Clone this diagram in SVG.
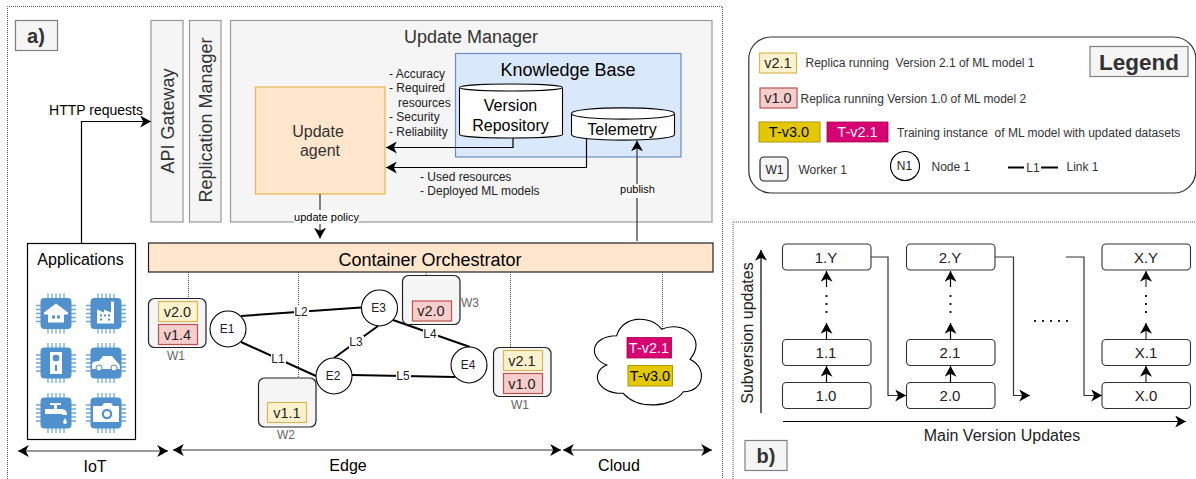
<svg xmlns="http://www.w3.org/2000/svg" width="1196" height="479" viewBox="0 0 1196 479">
<style>
text{font-family:"Liberation Sans",Arial,sans-serif;fill:#000;white-space:pre}
.c{text-anchor:middle}
.g{fill:#333}
.gb{fill:#f5f5f5;stroke:#808080;stroke-width:1.2}
.lb{fill:#f5f5f5;stroke:#999;stroke-width:1.2}
.dot{fill:none;stroke:#555;stroke-width:1;stroke-dasharray:1 1}
.w{fill:#f5f5f5;stroke:#222;stroke-width:1.2}
.y{fill:#fff2cc;stroke:#d6b656;stroke-width:1.2}
.r{fill:#f8cecc;stroke:#b85450;stroke-width:1.2}
.n{fill:#fff;stroke:#000;stroke-width:1.1}
.v{font-size:14.5px;fill:#222}
.s{font-size:12px;fill:#222}
.m{font-size:18px}
.t{font-size:16px}
.lg{font-size:12px;fill:#333}
.wl{font-size:12px;fill:#666}
.vn{font-size:15px;fill:#222}
.a{fill:none;stroke:#000;stroke-width:1.2}
.ag{fill:none;stroke:#333;stroke-width:1.2}
.lk{fill:none;stroke:#000;stroke-width:2}
.lbl{fill:#fff;stroke:none}
.v2{fill:#fff;stroke:#333;stroke-width:1.1}
.ic{fill:#fff;stroke:none}
.ib{fill:#4f90cd;stroke:none}
.ip{fill:none;stroke:#6fa7da;stroke-width:1.3}
</style>
<defs>
<marker id="ah" markerUnits="userSpaceOnUse" markerWidth="12" markerHeight="12" refX="9" refY="5" orient="auto-start-reverse" viewBox="0 0 10 10"><path d="M0,0 L9,5 L0,10 L2.5,5 Z" fill="#000"/></marker>
<g id="chip">
<path class="ip" d="M-8,-20V20M-4,-20V20M0,-20V20M4,-20V20M8,-20V20M-20,-8H20M-20,-4H20M-20,0H20M-20,4H20M-20,8H20"/>
<rect class="ib" x="-15.500" y="-15.500" width="31" height="31" rx="4"/>
</g>
</defs>

<g id="frame-a">
<path class="dot" d="M7.500,479V6.500H722.500V479"/>
<rect class="gb" x="15.500" y="20.500" width="42" height="30"/>
<text x="36" y="43" class="c g" font-size="20" font-weight="bold">a)</text>
</g>

<g id="api-gateway">
<rect class="lb" x="151" y="20.500" width="32" height="201.500"/>
<text class="c g m" transform="translate(174,121) rotate(-90)">API Gateway</text>
</g>
<g id="replication-manager">
<rect class="lb" x="189.500" y="20.500" width="31.500" height="201.500"/>
<text class="c g m" transform="translate(212,120) rotate(-90)">Replication Manager</text>
</g>
<g id="update-manager">
<rect class="lb" x="230.500" y="20.500" width="481.500" height="201.500"/>
<text x="471" y="43" class="c g m">Update Manager</text>
</g>
<g id="knowledge-base">
<rect x="455.500" y="53.500" width="225.500" height="103.500" fill="#dae8fc" stroke="#6c8ebf" stroke-width="1.2"/>
<text x="568" y="76" class="c m">Knowledge Base</text>
</g>
<g id="update-agent">
<rect x="255.500" y="87" width="129.500" height="107" fill="#ffe6cc" stroke="#e6b84e" stroke-width="1.2"/>
<text x="318" y="136.500" class="c g t">Update</text>
<text x="320" y="156" class="c g t">agent</text>
</g>
<g id="version-repository">
<path class="n" d="M459.500,87.500C459.500,82.800 562.500,82.800 562.500,87.500V134.500C562.500,139.200 459.500,139.200 459.500,134.500Z"/>
<path class="n" d="M459.500,87.500C459.500,92.200 562.500,92.200 562.500,87.500" fill="none"/>
<text x="510.500" y="111" class="c t">Version</text>
<text x="510.500" y="131" class="c t">Repository</text>
</g>
<g id="telemetry">
<path class="n" d="M571.500,113.500C571.500,106 674.500,106 674.500,113.500V134.500C674.500,142 571.500,142 571.500,134.500Z"/>
<path class="n" d="M571.500,113.500C571.500,121 674.500,121 674.500,113.500" fill="none"/>
<text x="622" y="135" class="c t">Telemetry</text>
</g>

<g id="connectors">
<path class="a" d="M81.500,243V121.500H151" marker-end="url(#ah)"/>
<path class="a" d="M513,138V147.500H386" marker-end="url(#ah)"/>
<path class="a" d="M586.500,139V167.500H386" marker-end="url(#ah)"/>
<path class="ag" d="M637,241V140.500" marker-end="url(#ah)"/>
<path class="ag" d="M320,194V238.500" marker-end="url(#ah)"/>
<path class="dot" d="M188.500,272V298M298.500,272V377M426,272V275M510.500,272V347M662.500,272V329"/>
<path class="lk" d="M241,316L361,307.500M241,342L316,376M334,358L378,326M393,320L470,347M352,375L455,377"/>
<path class="ag" d="M18,451H168" marker-start="url(#ah)" marker-end="url(#ah)"/>
<path class="ag" d="M173,450H561" marker-start="url(#ah)" marker-end="url(#ah)"/>
<path class="ag" d="M563,450H712" marker-start="url(#ah)" marker-end="url(#ah)"/>
<rect class="lbl" x="294" y="305" width="15" height="13"/>
<rect class="lbl" x="271" y="353" width="15" height="13"/>
<rect class="lbl" x="349" y="336" width="15" height="13"/>
<rect class="lbl" x="423" y="328" width="15" height="13"/>
<rect class="lbl" x="396" y="370" width="15" height="13"/>
<rect class="lbl" x="294" y="210" width="65" height="14"/>
<rect class="lbl" x="620" y="184" width="35" height="14"/>
<text x="301" y="316" class="c s">L2</text>
<text x="278" y="363" class="c s">L1</text>
<text x="356" y="346" class="c s">L3</text>
<text x="430" y="338" class="c s">L4</text>
<text x="403" y="380" class="c s">L5</text>
<text x="326.500" y="221" class="c" font-size="11">update policy</text>
<text x="637.500" y="193" class="c" font-size="11">publish</text>
<text x="96" y="114.500" class="c" font-size="14">HTTP requests</text>
<text x="389" y="78" class="s">- Accuracy</text>
<text x="389" y="92" class="s">- Required</text>
<text x="398" y="107" class="s">resources</text>
<text x="389" y="121" class="s">- Security</text>
<text x="389" y="136" class="s">- Reliability</text>
<text x="420" y="181" class="s">- Used resources</text>
<text x="420" y="195" class="s">- Deployed ML models</text>
<text x="95" y="472" class="c t" fill="#222">IoT</text>
<text x="348" y="471" class="c t">Edge</text>
<text x="619" y="471" class="c t">Cloud</text>
</g>

<g id="container-orchestrator">
<rect x="148.500" y="243" width="564.500" height="29" fill="#ffe6cc" stroke="#222" stroke-width="1.2"/>
<text x="430" y="265.500" class="c m">Container Orchestrator</text>
</g>

<g id="applications">
<rect x="27.500" y="243.500" width="108" height="196" fill="#fff" stroke="#000" stroke-width="1.2"/>
<text x="80.500" y="264.500" class="c t">Applications</text>
<g transform="translate(56,313.500)"><use href="#chip"/><path class="ic" d="M-12,-1L0,-10L12,-1V1H8V9H-8V1H-12Z"/><rect class="ib" x="-4" y="2" width="3" height="3"/><rect class="ib" x="1" y="2" width="3" height="3"/></g>
<g transform="translate(106,313.500)"><use href="#chip"/><path class="ic" d="M-9,10V-4L-2,-1V-4L5,-1V-12H8V10Z"/><path class="ib" d="M-6,1h2v2h-2zM-2,1h2v2h-2zM2,1h2v2h-2zM-6,5h2v2h-2zM2,5h2v2h-2z"/></g>
<g transform="translate(56,363)"><use href="#chip"/><rect class="ic" x="-6" y="-11" width="12" height="22"/><circle cx="0" cy="-5" r="4" fill="#4f90cd" stroke="#fff"/><rect class="ib" x="-1" y="2" width="2" height="6"/></g>
<g transform="translate(106,363)"><use href="#chip"/><path class="ic" d="M-14,6V1C-14,-1 -10,-2 -7,-2L-3,-7H6L11,-1C13,0 14,2 14,6Z"/><circle cx="-7" cy="5" r="3" fill="#fff" stroke="#4f90cd"/><circle cx="8" cy="5" r="3" fill="#fff" stroke="#4f90cd"/></g>
<g transform="translate(56,413)"><use href="#chip"/><path class="ic" d="M-11,-4H-2V-8H-6V-10H5V-8H1V-4H5C9,-4 11,-2 11,2H6C6,0 5,1 3,1H-11Z"/><path class="ic" d="M9,5L11,9A2,2 0 1 1 7,9Z"/></g>
<g transform="translate(106,413)"><use href="#chip"/><path class="ic" d="M-13,-7H-4L-2,-10H5L7,-7H13V9H-13Z"/><circle cx="1" cy="1" r="6" fill="#4f90cd" stroke="#fff" stroke-width="1.500"/><circle cx="1" cy="1" r="3" fill="#fff"/></g>
</g>

<g id="worker-w1-left">
<rect class="w" x="148.500" y="298.500" width="57.500" height="49" rx="6"/>
<rect class="y" x="158.500" y="301.500" width="39" height="20"/>
<text x="177.500" y="316.500" class="c v">v2.0</text>
<rect class="r" x="158.500" y="324.500" width="39" height="20"/>
<text x="177.500" y="339.500" class="c v">v1.4</text>
<text x="176" y="360" class="c wl">W1</text>
</g>
<g id="worker-w2">
<rect class="w" x="258.500" y="378" width="57.500" height="49" rx="6"/>
<rect class="y" x="267.500" y="402.500" width="39" height="20"/>
<text x="287" y="418" class="c v">v1.1</text>
<text x="286" y="439" class="c wl">W2</text>
</g>
<g id="worker-w3">
<rect class="w" x="402.500" y="275.500" width="57.500" height="49" rx="6"/>
<rect class="r" x="412.500" y="301" width="39" height="20"/>
<text x="431" y="316" class="c v">v2.0</text>
<text x="470" y="307" class="c wl">W3</text>
</g>
<g id="worker-w1-right">
<rect class="w" x="493.500" y="347.500" width="57.500" height="49" rx="6"/>
<rect class="y" x="503.500" y="350.500" width="39" height="20"/>
<text x="522" y="365.500" class="c v">v2.1</text>
<rect class="r" x="503.500" y="373.500" width="39" height="20"/>
<text x="522" y="388.500" class="c v">v1.0</text>
<text x="520" y="409" class="c wl">W1</text>
</g>
<g id="e1"><circle class="n" cx="228" cy="329" r="18"/><text x="227" y="333" class="c s">E1</text></g>
<g id="e2"><circle class="n" cx="334" cy="376" r="18"/><text x="333" y="380" class="c s">E2</text></g>
<g id="e3"><circle class="n" cx="379.500" cy="308" r="18"/><text x="378.500" y="312" class="c s">E3</text></g>
<g id="e4"><circle class="n" cx="469" cy="365" r="18"/><text x="468" y="369" class="c s">E4</text></g>

<g id="cloud">
<path class="n" d="M606.700,365C588,358 590,336 616.700,335.700C622,316 650,314 661.700,329.300C682,320 708,338 690,359.300C708,368 704,392 683.300,391.700C672,408 638,410 623.300,393.300C596,394 590,372 606.700,365Z"/>
<rect x="627" y="337.500" width="44.500" height="20.500" fill="#d80073" stroke="#a50040" stroke-width="0.800"/>
<text x="649" y="353" class="c" font-size="14.500" style="fill:#fff">T-v2.1</text>
<rect x="628" y="365.500" width="44.500" height="20.500" fill="#e3c800" stroke="#b09500" stroke-width="1"/>
<text x="650" y="381" class="c" font-size="14.500">T-v3.0</text>
</g>

<g id="legend">
<rect x="748.800" y="37" width="447" height="156" rx="22" fill="#fff" stroke="#333" stroke-width="1.2"/>
<rect class="gb" x="1090" y="46.500" width="98" height="30"/>
<text x="1139" y="70" class="c g" font-size="22.500" font-weight="bold">Legend</text>
<rect class="y" x="759.500" y="53" width="37" height="20"/>
<text x="778" y="68" class="c v">v2.1</text>
<text x="805.500" y="67" class="lg">Replica running  Version 2.1 of ML model 1</text>
<rect class="r" x="760" y="88" width="37" height="20"/>
<text x="778" y="103" class="c v">v1.0</text>
<text x="800.500" y="103" class="lg">Replica running Version 1.0 of ML model 2</text>
<rect x="759" y="122" width="61" height="20" fill="#e3c800" stroke="#b09500"/>
<text x="789" y="137" class="c" font-size="14.500">T-v3.0</text>
<rect x="827" y="122" width="61" height="20" fill="#d80073" stroke="#a50040" stroke-width="0.800"/>
<text x="857.500" y="137" class="c" font-size="14.500" style="fill:#fff">T-v2.1</text>
<text x="897" y="137" class="lg">Training instance  of ML model with updated datasets</text>
<rect class="w" x="760" y="157" width="28" height="24" rx="4"/>
<text x="774.500" y="174" class="c s">W1</text>
<text x="798.500" y="174" class="lg">Worker 1</text>
<circle class="n" cx="905" cy="166" r="14.500"/>
<text x="904.500" y="170" class="c s">N1</text>
<text x="931.500" y="171" class="lg">Node 1</text>
<path class="lk" d="M1008,167.500H1024M1041,167.500H1058"/>
<text x="1033" y="172" class="c lg">L1</text>
<text x="1066.500" y="171" class="lg">Link 1</text>
</g>

<g id="frame-b">
<path class="dot" d="M733,479V222H1196"/>
<rect class="gb" x="745" y="440.500" width="42" height="30"/>
<text x="766" y="463" class="c g" font-size="20" font-weight="bold">b)</text>
<text transform="translate(753,333) rotate(-90)" class="c t" style="fill:#222">Subversion updates</text>
<text x="1002" y="441" class="c t" style="fill:#222">Main Version Updates</text>
</g>

<g id="version-connectors">
<path class="a" d="M761,413V250" marker-end="url(#ah)"/>
<path class="a" d="M783,421.500H1186" marker-end="url(#ah)"/>
<path class="a" d="M826.500,382.500V366" marker-end="url(#ah)"/>
<path class="a" d="M826.500,339V323" marker-end="url(#ah)"/>
<path class="a" d="M826.500,287V271" marker-end="url(#ah)"/>
<path class="a" d="M950.500,382.500V366" marker-end="url(#ah)"/>
<path class="a" d="M950.500,339V323" marker-end="url(#ah)"/>
<path class="a" d="M950.500,287V271" marker-end="url(#ah)"/>
<path class="ag" d="M1146,382.500V366" marker-end="url(#ah)"/>
<path class="ag" d="M1146,339V323" marker-end="url(#ah)"/>
<path class="ag" d="M1146,287V271" marker-end="url(#ah)"/>
<path d="M826.500,295V313M950.500,295V313M1146,295V313" stroke="#222" stroke-width="2" stroke-dasharray="2 6" fill="none"/>
<path class="ag" d="M871,257H888V395.500H906" marker-end="url(#ah)"/>
<path class="ag" d="M995,257H1013.500V395.500H1030" marker-end="url(#ah)"/>
<path class="ag" d="M1066,257H1084V395.500H1102" marker-end="url(#ah)"/>
<path d="M1034,321H1070" stroke="#222" stroke-width="2" stroke-dasharray="2 6" fill="none"/>
</g>

<g id="v1y"><rect class="v2" x="782.500" y="244" width="88.500" height="26" rx="4"/><text x="826" y="262.500" class="c vn">1.Y</text></g>
<g id="v11"><rect class="v2" x="782.500" y="339.500" width="88.500" height="26" rx="4"/><text x="826" y="358" class="c vn">1.1</text></g>
<g id="v10"><rect class="v2" x="782.500" y="382.500" width="88.500" height="26" rx="4"/><text x="826" y="401" class="c vn">1.0</text></g>
<g id="v2y"><rect class="v2" x="906.500" y="244" width="88.500" height="26" rx="4"/><text x="950" y="262.500" class="c vn">2.Y</text></g>
<g id="v21"><rect class="v2" x="906.500" y="339.500" width="88.500" height="26" rx="4"/><text x="950" y="358" class="c vn">2.1</text></g>
<g id="v20"><rect class="v2" x="906.500" y="382.500" width="88.500" height="26" rx="4"/><text x="950" y="401" class="c vn">2.0</text></g>
<g id="vxy"><rect class="v2" x="1102" y="244" width="88.500" height="26" rx="4"/><text x="1146" y="262.500" class="c vn">X.Y</text></g>
<g id="vx1"><rect class="v2" x="1102" y="339.500" width="88.500" height="26" rx="4"/><text x="1146" y="358" class="c vn">X.1</text></g>
<g id="vx0"><rect class="v2" x="1102" y="382.500" width="88.500" height="26" rx="4"/><text x="1146" y="401" class="c vn">X.0</text></g>
</svg>
